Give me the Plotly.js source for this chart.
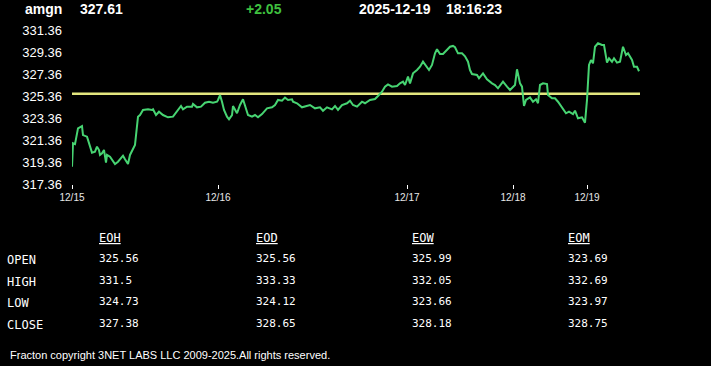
<!DOCTYPE html>
<html>
<head>
<meta charset="utf-8">
<script src="https://cdn.plot.ly/plotly-3.0.1.min.js"></script>
<style>html,body{margin:0;padding:0;background:#000;}#chart{width:711px;height:366px;}</style>
</head>
<body>
<div id="chart"></div>
<script>
// ---- data ----
const symbol = 'amgn';
const lastPrice = '327.61';
const change = '+2.05';
const dateText = '2025-12-19';
const timeText = '18:16:23';

const barIndex = [0,1,3,5,6,10,11,15,18,20,23,25,27,28,30,32,34,35,38,40,43,46,51,53,56,58,61,63,66,68,71,76,80,81,84,87,91,96,101,105,109,111,115,120,121,125,129,133,137,141,145,146,148,150,152,155,157,160,161,165,168,171,176,180,183,186,190,195,200,203,206,210,213,216,220,221,225,230,235,238,243,248,251,255,260,263,266,270,275,278,281,285,290,293,298,303,306,310,313,316,320,325,328,331,333,336,338,341,345,348,351,355,357,360,363,365,368,371,375,378,381,383,386,390,393,396,398,400,405,407,411,415,420,423,426,431,435,438,443,445,448,450,452,454,458,461,464,466,468,471,475,476,480,483,486,490,494,497,501,503,506,510,513,515,517,519,521,523,526,530,532,535,537,540,542,545,548,551,554,556,560,562,565,567];
const price = [318.93,321.06,320.99,321.81,322.42,322.63,321.81,321.66,320.75,320.21,320.30,320.75,320.45,320.00,320.15,320.45,319.30,320.00,319.84,319.54,319.18,319.39,319.93,319.61,319.18,320.00,320.61,320.91,323.48,323.63,324.09,324.15,324.09,324.15,323.63,323.93,323.63,323.42,323.48,323.93,324.45,324.15,324.39,324.39,324.63,324.33,324.39,324.75,324.84,324.75,324.84,325.00,325.45,324.84,324.09,323.48,323.24,323.63,324.45,323.79,324.54,325.06,323.63,323.48,323.63,323.42,323.72,324.24,324.33,324.54,325.00,324.93,325.21,325.00,325.06,324.84,324.70,324.33,324.45,324.54,324.24,324.33,324.02,324.33,324.15,324.45,324.09,324.54,324.70,324.93,324.54,324.39,324.84,324.70,325.00,325.09,325.36,325.75,326.21,326.42,326.21,326.27,326.51,326.66,326.36,327.12,326.51,327.42,327.72,328.02,328.48,328.02,327.72,328.18,329.24,329.61,329.18,329.18,329.54,329.84,329.91,329.79,329.24,329.24,328.97,328.48,327.72,327.36,327.27,326.97,327.42,326.88,326.51,326.36,326.06,326.66,326.21,325.91,326.36,327.79,326.51,326.21,324.45,325.00,325.24,324.84,325.06,324.70,326.36,326.51,326.45,325.45,325.15,325.15,324.84,324.33,323.79,323.93,323.72,324.02,323.33,323.42,322.93,325.00,328.18,328.63,328.33,329.84,330.15,330.00,330.00,328.39,328.79,328.48,328.79,328.39,328.48,329.84,329.09,329.24,328.63,328.02,328.02,327.61];

const openLevel = 325.56;
const openSpan = [0, 568];

const dateTickIndex = [0, 146, 335, 441, 515];
const dateTickText = ['12/15', '12/16', '12/17', '12/18', '12/19'];
const priceTicks = [317.36, 319.36, 321.36, 323.36, 325.36, 327.36, 329.36, 331.36];

const tableRows = ['OPEN', 'HIGH', 'LOW', 'CLOSE'];
const tableCols = ['EOH', 'EOD', 'EOW', 'EOM'];
const eohVals = ['325.56', '331.5', '324.73', '327.38'];
const eodVals = ['325.56', '333.33', '324.12', '328.65'];
const eowVals = ['325.99', '332.05', '323.66', '328.18'];
const eomVals = ['323.69', '332.69', '323.97', '328.75'];
const footer = 'Fracton copyright 3NET LABS LLC 2009-2025.All rights reserved.';

// ---- layout helpers (pixel -> paper) ----
const ML = 72, PW = 600, MT = 30, PH = 154;
const W = 711, H = 366;
const px = x => (x - ML) / PW;
const py = y => (MT + PH - y) / PH;

const ann = [];
function txt(x, y, text, font, xanchor) {
  ann.push({xref: 'paper', yref: 'paper', x: px(x), y: py(y), text: text,
    showarrow: false, xanchor: xanchor || 'left', yanchor: 'middle', font: font});
}
const hdrFont = {family: 'Liberation Sans, Arial, sans-serif', size: 14, color: '#ffffff', weight: 'bold'};
txt(23, 9, '<b>' + symbol + '</b>', hdrFont);
txt(78, 9, '<b>' + lastPrice + '</b>', hdrFont);
txt(244, 9, '<b>' + change + '</b>', Object.assign({}, hdrFont, {color: '#3fc13f'}));
txt(357, 9, '<b>' + dateText + '</b>', hdrFont);
txt(444, 9, '<b>' + timeText + '</b>', hdrFont);

const mono = 'DejaVu Sans Mono, Liberation Mono, monospace';
const colX = [97, 254, 410, 566];
const rowY = [259, 281, 302, 324];
const colVals = [eohVals, eodVals, eowVals, eomVals];
tableCols.forEach((c, i) => txt(colX[i], 238, '<u>' + c + '</u>', {family: mono, size: 12, color: '#ffffff'}));
tableRows.forEach((r, j) => {
  txt(5, rowY[j] + 1, r, {family: mono, size: 12, color: '#ffffff'});
  colVals.forEach((vals, i) => txt(colX[i], rowY[j] - 1, vals[j], {family: mono, size: 11, color: '#ffffff'}));
});
txt(8, 355, footer, {family: 'Liberation Sans, Arial, sans-serif', size: 11, color: '#ffffff'});

const traces = [
  {x: openSpan, y: [openLevel, openLevel], mode: 'lines', type: 'scatter',
   line: {color: '#e3e67e', width: 2.5}, hoverinfo: 'skip'},
  {x: barIndex, y: price, mode: 'lines', type: 'scatter',
   line: {color: '#47d472', width: 2}, hoverinfo: 'skip'}
];

const layout = {
  width: W, height: H,
  paper_bgcolor: '#000000', plot_bgcolor: '#000000',
  showlegend: false,
  margin: {l: ML, r: W - ML - PW, t: MT, b: H - MT - PH, pad: 0},
  xaxis: {range: [0, PW], showgrid: false, zeroline: false, showline: false,
    tickmode: 'array', tickvals: dateTickIndex, ticktext: dateTickText,
    ticks: 'outside', ticklen: 4, tickwidth: 1, tickcolor: '#ffffff',
    tickfont: {family: 'Liberation Sans, Arial, sans-serif', size: 10, color: '#e8e8e8'}},
  yaxis: {range: [317.36, 331.36], showgrid: false, zeroline: false, showline: false,
    tickmode: 'array', tickvals: priceTicks, ticktext: priceTicks.map(v => v.toFixed(2)),
    ticks: '', ticklabelstandoff: 9,
    tickfont: {family: 'Liberation Sans, Arial, sans-serif', size: 13, color: '#ffffff'}},
  annotations: ann
};

Plotly.newPlot('chart', traces, layout, {staticPlot: true, displayModeBar: false});
</script>
</body>
</html>
